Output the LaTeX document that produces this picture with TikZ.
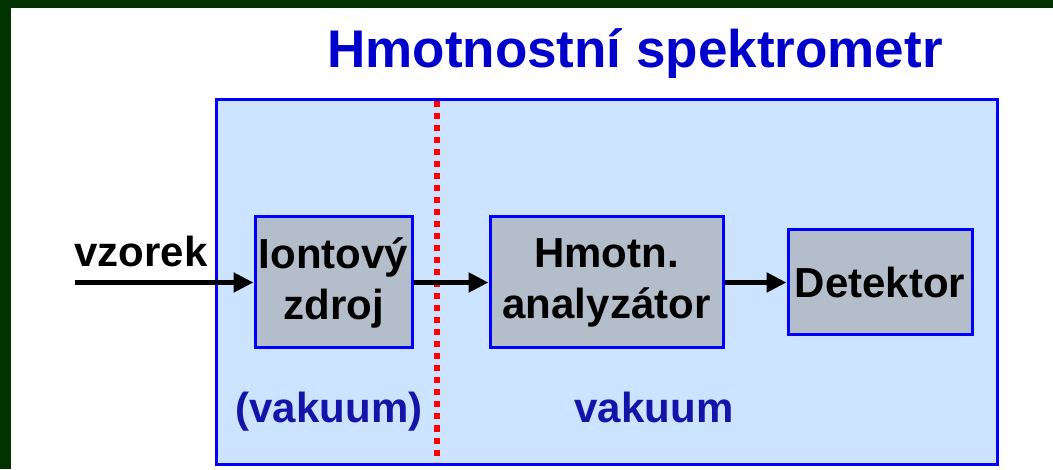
\documentclass[tikz,border=0pt]{standalone}
\usepackage{fontspec}
\setmainfont{Liberation Sans}
\usetikzlibrary{positioning,arrows.meta}
\definecolor{framegreen}{RGB}{0,51,0}
\definecolor{vacblue}{RGB}{204,228,255}
\definecolor{boxgray}{RGB}{180,190,202}
\definecolor{titleblue}{RGB}{0,0,204}
\definecolor{labelblue}{RGB}{20,20,170}

\begin{document}
\begin{tikzpicture}[x=1pt, y=1pt,
    font=\fontsize{42}{51}\selectfont\bfseries, >={Triangle[length=20pt,width=19pt]},
    unit/.style={draw=blue, line width=3pt, fill=boxgray, align=center, inner sep=0pt, minimum height=131pt},
    flow/.style={->, line width=5pt, black},
    vac/.style={text=labelblue, anchor=base}]
  \useasboundingbox (0,0) rectangle (1053,469);
  \fill[white] (0,0) rectangle (1053,469);
  \fill[framegreen] (0,461) rectangle (1053,469);
  \fill[framegreen] (0,0) rectangle (11,469);
  % vacuum chamber
  \node[draw=blue, line width=3pt, fill=vacblue, minimum width=781pt, minimum height=364pt] (ms) at (606.5,187) {};
  \node[text=titleblue, font=\fontsize{53}{60}\selectfont\bfseries, anchor=base] (title) at (635,401) {Hmotnostní spektrometr};
  \draw[red, line width=6pt, dash pattern=on 6pt off 6pt] ([yshift=-3pt]ms.north -| 437,0) -- ([yshift=4pt]ms.south -| 437,0);
  % units
  \node[unit, minimum width=157pt] (src) at (333.5,186.5) {Iontový\\zdroj};
  \node[unit, minimum width=233pt] (ana) at (606.5,186.5) {Hmotn.\\analyzátor};
  \node[unit, minimum width=184pt, minimum height=105pt] (det) at (880,186.5) {Detektor};
  \node[anchor=base west] (sample) at (71,202) {vzorek};
  \coordinate (in) at (75,186.5);
  \draw[flow] (in) -- (src);
  \draw[flow] (src) -- (ana);
  \draw[flow] (ana) -- (det);
  \node[vac] (vac1) at (329,46) {(vakuum)};
  \node[vac] (vac2) at (654,46) {vakuum};
\end{tikzpicture}
\end{document}
